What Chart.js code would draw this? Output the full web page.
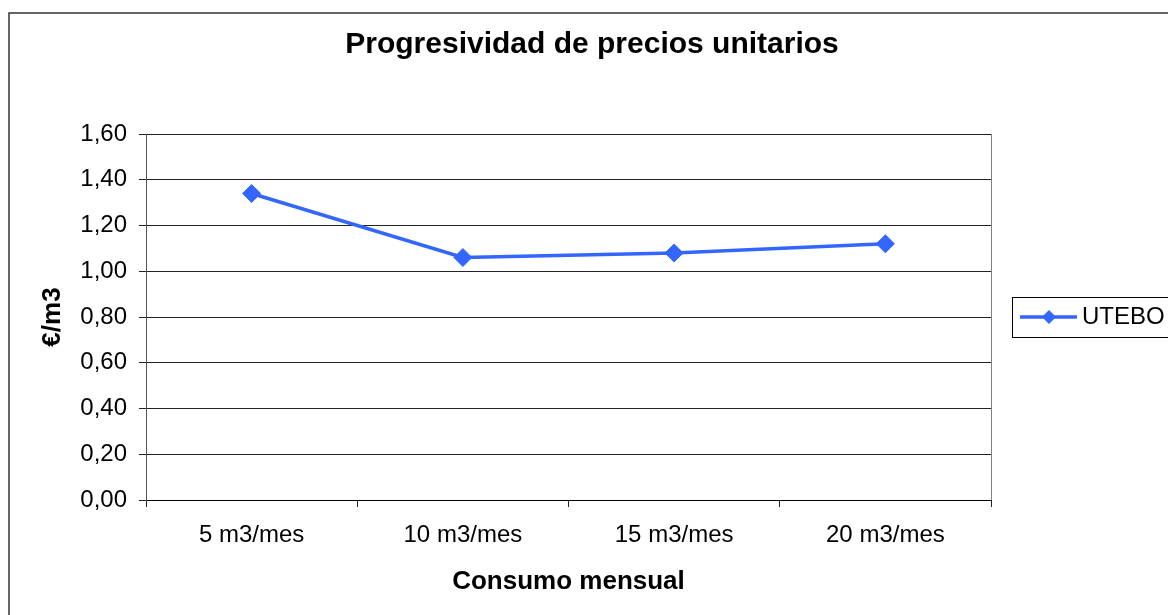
<!DOCTYPE html>
<html>
<head>
<meta charset="utf-8">
<script src="https://cdn.jsdelivr.net/npm/chart.js@4/dist/chart.umd.min.js"></script>
<style>
  html, body { margin: 0; padding: 0; background: #fff; }
  canvas { display: block; }
</style>
</head>
<body>
<canvas id="chart" width="1168" height="615"></canvas>
<script>
// datos
const categories = ['5 m3/mes', '10 m3/mes', '15 m3/mes', '20 m3/mes'];
const uteboValues = [1.34, 1.06, 1.08, 1.12];
const yTickValues = [0, 0.2, 0.4, 0.6, 0.8, 1.0, 1.2, 1.4, 1.6];
const seriesLabel = 'UTEBO';
const chartTitle = 'Progresividad de precios unitarios';
const xTitle = 'Consumo mensual';
const yTitle = '€/m3';

const FONT = '"Liberation Sans", Arial, sans-serif';
const BLUE = '#3366FF';
Chart.defaults.font.family = FONT;
Chart.defaults.color = '#000';

const formatTick = (v) => Number(v).toFixed(2).replace('.', ',');

// marco exterior, borde derecho del área y leyenda
const framePlugin = {
  id: 'frame',
  afterDraw(chart) {
    const ctx = chart.ctx;
    const area = chart.chartArea;
    ctx.save();
    // borde exterior
    ctx.strokeStyle = '#333';
    ctx.lineWidth = 1.5;
    ctx.strokeRect(9, 13, 1300, 800);
    // borde derecho del área de trazado
    ctx.strokeStyle = '#808080';
    ctx.lineWidth = 1;
    ctx.beginPath();
    ctx.moveTo(Math.round(area.right) + 0.5, area.top);
    ctx.lineTo(Math.round(area.right) + 0.5, area.bottom);
    ctx.stroke();

    // leyenda
    const ds = chart.data.datasets[0];
    const cy = (area.top + area.bottom) / 2;
    const bx = area.right + 21;
    ctx.strokeStyle = '#000';
    ctx.lineWidth = 1;
    ctx.strokeRect(Math.round(bx) + 0.5, Math.round(cy - 20) + 0.5, 300, 40);
    ctx.strokeStyle = ds.borderColor;
    ctx.lineWidth = 3.5;
    ctx.beginPath();
    ctx.moveTo(bx + 8, cy);
    ctx.lineTo(bx + 65, cy);
    ctx.stroke();
    ctx.fillStyle = ds.borderColor;
    ctx.beginPath();
    const mx = bx + 37, r = 7;
    ctx.moveTo(mx - r, cy);
    ctx.lineTo(mx, cy - r);
    ctx.lineTo(mx + r, cy);
    ctx.lineTo(mx, cy + r);
    ctx.closePath();
    ctx.fill();
    ctx.fillStyle = '#000';
    ctx.font = '24px ' + FONT;
    ctx.textBaseline = 'middle';
    ctx.textAlign = 'left';
    ctx.fillText(ds.label, bx + 70, cy);
    ctx.restore();
  }
};

new Chart(document.getElementById('chart'), {
  type: 'line',
  data: {
    labels: categories,
    datasets: [{
      label: seriesLabel,
      data: uteboValues,
      borderColor: BLUE,
      backgroundColor: BLUE,
      borderWidth: 3.5,
      tension: 0,
      pointStyle: 'rectRot',
      pointRadius: 9,
      pointBackgroundColor: BLUE,
      pointBorderColor: BLUE,
      pointBorderWidth: 1,
      yAxisID: 'y'
    }]
  },
  options: {
    responsive: false,
    animation: false,
    devicePixelRatio: 1,
    layout: { padding: { left: 16, right: 0, top: 0, bottom: 0 } },
    plugins: {
      legend: { display: false },
      tooltip: { enabled: false },
      title: {
        display: true,
        text: chartTitle,
        color: '#000',
        font: { size: 30, weight: 'bold' },
        padding: { top: 27, bottom: 71 }
      }
    },
    scales: {
      x: {
        offset: true,
        grid: {
          offset: true,
          drawOnChartArea: false,
          tickLength: 7,
          color: '#222'
        },
        border: { color: '#000', width: 1 },
        ticks: { font: { size: 24 }, color: '#000', padding: 14, maxRotation: 0 },
        title: {
          display: true,
          text: xTitle,
          color: '#000',
          font: { size: 26, weight: 'bold' },
          padding: { top: 0, bottom: 18 }
        },
        afterFit(scale) { scale.height = 115; }
      },
      y: {
        position: 'left',
        min: 0,
        max: 1.6,
        grid: { color: '#222', tickLength: 7 },
        border: { color: '#555', width: 1 },
        ticks: { font: { size: 24 }, color: '#000', padding: 12, callback: formatTick },
        afterBuildTicks(scale) { scale.ticks = yTickValues.map(v => ({ value: v })); },
        title: {
          display: true,
          text: yTitle,
          color: '#000',
          font: { size: 26, weight: 'bold' },
          padding: { top: 21, bottom: 0 }
        },
        afterFit(scale) { scale.width = 130; }
      },
      legendSpace: {
        position: 'right',
        display: true,
        grid: { display: false },
        border: { display: false },
        ticks: { display: false },
        afterFit(scale) { scale.width = 177; }
      }
    }
  },
  plugins: [framePlugin]
});
</script>
</body>
</html>
